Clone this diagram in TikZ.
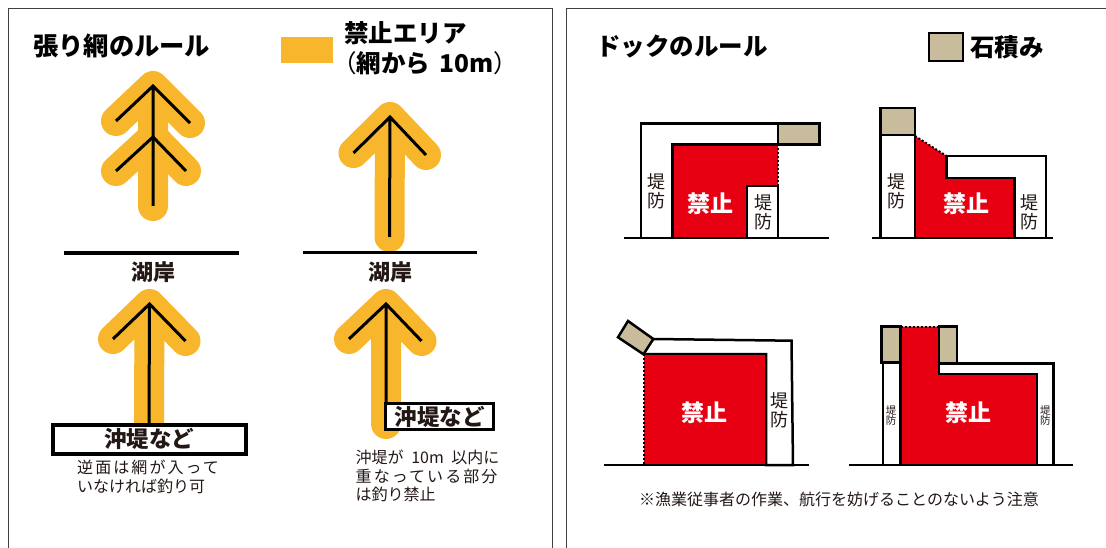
\documentclass[tikz,border=0pt]{standalone}
\usepackage{fontspec}
\setmainfont{Noto Sans CJK JP}
\newfontfamily\widefont[LetterSpace=13]{Noto Sans CJK JP}
\definecolor{halocolor}{HTML}{F8B62D}
\definecolor{bancolor}{HTML}{E60012}
\definecolor{stonecolor}{HTML}{C9BC9C}
\definecolor{inkcolor}{HTML}{231815}
\tikzset{
  halo/.style={draw=halocolor, line width=30, line cap=round, line join=round},
  stem/.style={draw=black, line width=3, line cap=butt, line join=miter},
  shore/.style={draw=black, line width=3.5},
  wall/.style={draw=black, line width=2.5, fill=white, line join=miter},
  stone/.style={draw=black, line width=2.5, fill=stonecolor, line join=miter},
  ban/.style={fill=bancolor},
  edgeline/.style={draw=black, line width=2.5},
  openline/.style={draw=black, line width=2, dash pattern=on 2pt off 2pt},
  groundline/.style={draw=black, line width=2},
  frameline/.style={draw=black!75, line width=1},
  headtext/.style={inner sep=0, text=black, font=\fontsize{24.5}{30}\bfseries\selectfont},
  shoretext/.style={inner sep=0, text=inkcolor, font=\fontsize{22}{26}\bfseries\selectfont},
  notetext/.style={inner sep=0, anchor=west, text=inkcolor, font=\fontsize{16}{19}\selectfont},
  widetext/.style={notetext, font=\fontsize{16}{19}\widefont},
  bantext/.style={inner sep=0, yshift=-1pt, text=white, font=\fontsize{23}{26}\bfseries\selectfont},
  banktext/.style={inner sep=0, align=center, text=inkcolor, font=\fontsize{18}{19}\selectfont},
  tinybanktext/.style={inner sep=0, align=center, text=inkcolor, font=\fontsize{10.5}{10.5}\selectfont},
  breakwater/.style={draw=black, fill=white, inner sep=0, text=inkcolor, font=\fontsize{22.5}{26}\bfseries\selectfont},
}
\begin{document}
\begin{tikzpicture}[x=1pt, y=-1pt]
\useasboundingbox (0,0) rectangle (1106,548);

\draw[frameline] (8.5,548) -- (8.5,9) -- (552.5,9) -- (552.5,548);
\draw[frameline] (566,548) -- (566,9) -- (1106,9);

% net side
\node[headtext, anchor=west, font=\fontsize{25.3}{30}\bfseries\selectfont] (nettitle) at (33,46) {張り網のルール};
\fill[halocolor] (281,37) rectangle (333,63);
\node[headtext, anchor=west] (areaname) at (344,33) {禁止エリア};
\node[headtext, anchor=west] (areanote) at (332,63) {{\mdseries （}網から\hspace{4pt} 10m{\mdseries ）}};

\path[halo] (116,121) -- (153,86) -- (190,123) (153,86) -- (153,206);
\path[halo] (116,171) -- (153,137) -- (186,171);
\path[stem] (116,121) -- (153,86) -- (190,123) (153,86) -- (153,206);
\path[stem] (116,171) -- (153,137) -- (186,171);

\path[halo] (353.5,153) -- (390,117) -- (426,155) (390,117) -- (389.5,237);
\path[stem] (353.5,153) -- (390,117) -- (426,155) (390,117) -- (389.5,237);

\path[shore] (64,253) -- (239,253);
\path[shore] (303,252.5) -- (477,252.5);
\node[shoretext] (shoreleft) at (153,272) {湖岸};
\node[shoretext] (shoreright) at (390,272) {湖岸};

\path[halo] (113,339) -- (149.5,304) -- (185.5,341) (149.5,304) -- (149,424);
\path[stem] (113,339) -- (149.5,304) -- (185.5,341) (149.5,304) -- (149,424);
\node[breakwater, line width=4, minimum width=193, minimum height=29] (breakwaterleft) at (149.3,439.2) {沖堤など};
\node[widetext] (noteleftone) at (77,467) {逆面は網が入って};
\node[notetext] (notelefttwo) at (77,486) {いなければ釣り可};

\path[halo] (349,339) -- (386,304) -- (421.5,341) (386,304) -- (386,424);
\path[stem] (349,339) -- (386,304) -- (421.5,341) (386,304) -- (386,403);
\node[breakwater, line width=3, minimum width=107.5, minimum height=26.5] (breakwaterright) at (439.7,416.5) {沖堤など};
\node[notetext] (noterightone) at (355.5,457) {沖堤が\hspace{4pt} 10m\hspace{4pt} 以内に};
\node[widetext] (noterighttwo) at (355.5,476) {重なっている部分};
\node[notetext] (noterightthree) at (355.5,494) {は釣り禁止};

% dock side
\node[headtext, anchor=west] (docktitle) at (596,46) {ドックのルール};
\path[stone] (929,33) rectangle (963,61);
\node[headtext, anchor=west] (stonename) at (970,47) {石積み};

% dock 1
\path[wall] (641,238) -- (641,123.5) -- (778,123.5) -- (778,144.5) -- (672.5,144.5) -- (672.5,238);
\fill[ban] (672.5,144.5) -- (778,144.5) -- (778,186) -- (747,186) -- (747,238) -- (672.5,238) -- cycle;
\path[edgeline] (672.5,238) -- (672.5,144.5) -- (778,144.5);
\path[openline] (778,144.5) -- (778,186);
\path[stone] (778,123.5) rectangle (819.5,144.5);
\path[wall] (747,238) -- (747,186) -- (778,186) -- (778,238);
\path[groundline] (624,238) -- (829,238);
\node[bantext] (banone) at (710.5,203) {禁止};
\node[banktext] (bankonea) at (656.5,191.5) {堤\\防};
\node[banktext] (bankoneb) at (763,212.5) {堤\\防};

% dock 2
\path[wall] (880.5,238) -- (880.5,135) -- (915,135) -- (915,238);
\path[stone] (880.5,108) rectangle (915,135);
\path[wall] (946.5,156) -- (1046,156) -- (1046,238) -- (1014.5,238) -- (1014.5,178) -- (946.5,178) -- cycle;
\fill[ban] (915,136) -- (946.5,156) -- (946.5,178) -- (1014.5,178) -- (1014.5,238) -- (915,238) -- cycle;
\path[edgeline] (946.5,156) -- (946.5,178) -- (1014.5,178) -- (1014.5,238);
\path[edgeline] (915,136) -- (915,238);
\path[openline] (915,136) -- (946.5,156);
\path[groundline] (871.5,238) -- (1052.5,238);
\node[bantext] (bantwo) at (966.7,203) {禁止};
\node[banktext] (banktwoa) at (896.7,191.5) {堤\\防};
\node[banktext] (banktwob) at (1029.4,212.5) {堤\\防};

% dock 3
\path[wall] (653.3,339) -- (791.5,340.7) -- (793,465) -- (766,465) -- (766,354) -- (643.5,354);
\fill[ban] (643.5,354) rectangle (766,465);
\path[edgeline] (643.5,354) -- (766,354) -- (766,465);
\path[openline] (643.5,354) -- (643.5,465);
\path[stone] (628,321) -- (653.3,339) -- (643.5,354.3) -- (618,337.3) -- cycle;
\path[groundline] (604,465) -- (809,465);
\node[bantext] (banthree) at (704.5,412) {禁止};
\node[banktext] (bankthree) at (779.4,410.5) {堤\\防};

% dock 4
\path[wall] (883,465) -- (883,362.7) -- (900.5,362.7) -- (900.5,465);
\path[stone] (881.7,326.7) rectangle (900.5,362.7);
\path[wall] (939,363.3) -- (1053.7,363.3) -- (1053.7,465) -- (1037,465) -- (1037,374) -- (939,374) -- cycle;
\fill[ban] (900.5,326.7) -- (939,326.7) -- (939,374) -- (1037,374) -- (1037,465) -- (900.5,465) -- cycle;
\path[edgeline] (900.5,326.7) -- (900.5,465);
\path[edgeline] (939,326.7) -- (939,374) -- (1037,374) -- (1037,465);
\path[openline] (900.5,326.7) -- (939,326.7);
\path[stone] (939,326.7) rectangle (957,363.3);
\path[groundline] (849,465) -- (1073,465);
\node[bantext] (banfour) at (968.4,412) {禁止};
\node[tinybanktext] (bankfoura) at (891,415.5) {堤\\防};
\node[tinybanktext] (bankfourb) at (1045.4,415.5) {堤\\防};

\node[inner sep=0, text=inkcolor, font=\fontsize{16}{19}\selectfont] (caution) at (839,499) {※漁業従事者の作業、航行を妨げることのないよう注意};
\end{tikzpicture}
\end{document}
